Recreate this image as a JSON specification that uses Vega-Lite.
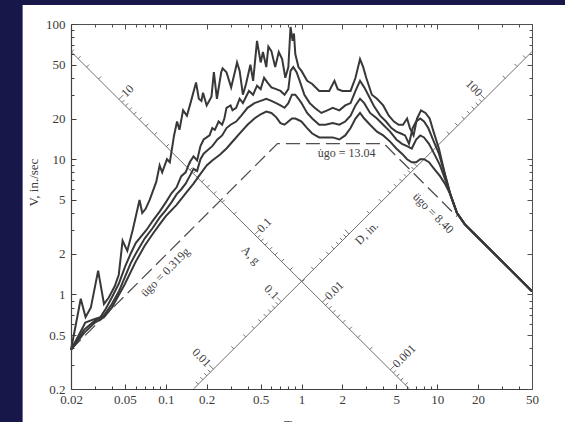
{
"$schema":"https://vega.github.io/schema/vega-lite/v6.json",
"width":461,"height":365,"autosize":"none",
"padding":{"left":71,"top":24,"right":33,"bottom":33},
"background":"#17174a",
"config":{"view":{"stroke":null},"font":"Liberation Serif"},
"datasets":{
"plate":[{}],
"diag":[{"line":"A","T":0.02,"V":62.5},{"line":"A","T":6.25,"V":0.2},{"line":"D","T":0.16,"V":0.2},{"line":"D","T":50,"V":62.5}],
"aticks":[{"T":0.020173,"V":61.96,"m":"n"},{"T":0.022554,"V":55.42,"m":"n"},{"T":0.026043,"V":48.0,"m":"n"},{"T":0.031895,"V":39.19,"m":"n"},{"T":0.045107,"V":27.71,"m":"y"},{"T":0.047548,"V":26.29,"m":"n"},{"T":0.050432,"V":24.79,"m":"n"},{"T":0.053914,"V":23.18,"m":"n"},{"T":0.058234,"V":21.47,"m":"n"},{"T":0.063792,"V":19.59,"m":"n"},{"T":0.071322,"V":17.53,"m":"n"},{"T":0.082355,"V":15.18,"m":"n"},{"T":0.10086,"V":12.39,"m":"n"},{"T":0.14264,"V":8.763,"m":"y"},{"T":0.15036,"V":8.313,"m":"n"},{"T":0.15948,"V":7.838,"m":"n"},{"T":0.17049,"V":7.332,"m":"n"},{"T":0.18415,"V":6.788,"m":"n"},{"T":0.20173,"V":6.196,"m":"n"},{"T":0.22554,"V":5.542,"m":"n"},{"T":0.26043,"V":4.8,"m":"n"},{"T":0.31895,"V":3.919,"m":"n"},{"T":0.45107,"V":2.771,"m":"y"},{"T":0.47548,"V":2.629,"m":"n"},{"T":0.50432,"V":2.479,"m":"n"},{"T":0.53914,"V":2.318,"m":"n"},{"T":0.58234,"V":2.147,"m":"n"},{"T":0.63792,"V":1.959,"m":"n"},{"T":0.71322,"V":1.753,"m":"n"},{"T":0.82355,"V":1.518,"m":"n"},{"T":1.0086,"V":1.239,"m":"n"},{"T":1.4264,"V":0.8763,"m":"y"},{"T":1.5036,"V":0.8313,"m":"n"},{"T":1.5948,"V":0.7838,"m":"n"},{"T":1.7049,"V":0.7332,"m":"n"},{"T":1.8415,"V":0.6788,"m":"n"},{"T":2.0173,"V":0.6196,"m":"n"},{"T":2.2554,"V":0.5542,"m":"n"},{"T":2.6043,"V":0.48,"m":"n"},{"T":3.1895,"V":0.3919,"m":"n"},{"T":4.5107,"V":0.2771,"m":"y"},{"T":4.7548,"V":0.2629,"m":"n"},{"T":5.0432,"V":0.2479,"m":"n"},{"T":5.3914,"V":0.2318,"m":"n"},{"T":5.8234,"V":0.2147,"m":"n"}],
"dticks":[{"T":0.17366,"V":0.2171,"m":"n"},{"T":0.18758,"V":0.2345,"m":"n"},{"T":0.20053,"V":0.2507,"m":"n"},{"T":0.2127,"V":0.2659,"m":"n"},{"T":0.2242,"V":0.2803,"m":"y"},{"T":0.31706,"V":0.3963,"m":"n"},{"T":0.38832,"V":0.4854,"m":"n"},{"T":0.4484,"V":0.5605,"m":"n"},{"T":0.50132,"V":0.6267,"m":"n"},{"T":0.54917,"V":0.6865,"m":"n"},{"T":0.59317,"V":0.7415,"m":"n"},{"T":0.63413,"V":0.7927,"m":"n"},{"T":0.6726,"V":0.8408,"m":"n"},{"T":0.70899,"V":0.8862,"m":"y"},{"T":1.00264,"V":1.2533,"m":"n"},{"T":1.22797,"V":1.535,"m":"n"},{"T":1.41797,"V":1.7725,"m":"n"},{"T":1.58532,"V":1.9817,"m":"n"},{"T":1.73663,"V":2.1708,"m":"n"},{"T":1.87577,"V":2.3447,"m":"n"},{"T":2.0053,"V":2.5066,"m":"n"},{"T":2.12695,"V":2.6587,"m":"n"},{"T":2.242,"V":2.8025,"m":"y"},{"T":3.1706,"V":3.9633,"m":"n"},{"T":3.8832,"V":4.854,"m":"n"},{"T":4.484,"V":5.605,"m":"n"},{"T":5.0132,"V":6.2665,"m":"n"},{"T":5.4917,"V":6.8646,"m":"n"},{"T":5.9317,"V":7.4146,"m":"n"},{"T":6.3413,"V":7.9266,"m":"n"},{"T":6.726,"V":8.4075,"m":"n"},{"T":7.0899,"V":8.8624,"m":"y"},{"T":10.0264,"V":12.533,"m":"n"},{"T":12.2797,"V":15.35,"m":"n"},{"T":14.1797,"V":17.725,"m":"n"},{"T":15.8532,"V":19.817,"m":"n"},{"T":17.3663,"V":21.708,"m":"n"},{"T":18.7577,"V":23.447,"m":"n"},{"T":20.053,"V":25.066,"m":"n"},{"T":21.2695,"V":26.587,"m":"n"},{"T":22.42,"V":28.025,"m":"y"},{"T":31.706,"V":39.633,"m":"n"},{"T":38.832,"V":48.54,"m":"n"},{"T":44.84,"V":56.05,"m":"n"}],
"alab":[{"T":0.045107,"V":27.71,"t":"10"},{"T":0.45107,"V":2.771,"t":"0.1"},{"T":1.4264,"V":0.8763,"t":"0.01"},{"T":4.5107,"V":0.2771,"t":"0.001"}],
"dlab":[{"T":0.2242,"V":0.2803,"t":"0.01"},{"T":0.70899,"V":0.8862,"t":"0.1"},{"T":22.42,"V":28.025,"t":"100"}],
"ann45":[{"T":0.4235,"V":1.956,"t":"A, g"},{"T":9.38,"V":4.0,"t":"ügo = 8.40"}],
"annm45":[{"T":3.018,"V":2.845,"t":"D, in."},{"T":0.0988,"V":1.465,"t":"ügo = 0.319g"}],
"ann0":[{"T":2.151,"V":11.11,"t":"u̇go = 13.04"}],
"dash":[{"T":0.02,"V":0.392},{"T":0.665,"V":13.04},{"T":4.05,"V":13.04},{"T":14,"V":3.77}],
"curves":[
{"z":"0","T":0.02,"V":0.39},{"z":"0","T":0.0236,"V":0.93},{"z":"0","T":0.0256,"V":0.68},{"z":"0","T":0.028,"V":0.8},{"z":"0","T":0.0317,"V":1.5},{"z":"0","T":0.035,"V":0.85},{"z":"0","T":0.038,"V":0.95},{"z":"0","T":0.042,"V":1.15},{"z":"0","T":0.045,"V":1.4},{"z":"0","T":0.048,"V":2.5},{"z":"0","T":0.052,"V":2.1},{"z":"0","T":0.057,"V":3.0},{"z":"0","T":0.064,"V":5.0},{"z":"0","T":0.067,"V":4.0},{"z":"0","T":0.071,"V":4.3},{"z":"0","T":0.076,"V":5.0},{"z":"0","T":0.085,"V":6.8},{"z":"0","T":0.09,"V":9.0},{"z":"0","T":0.094,"V":8.0},{"z":"0","T":0.102,"V":10.0},{"z":"0","T":0.107,"V":9.5},{"z":"0","T":0.115,"V":15},{"z":"0","T":0.121,"V":19},{"z":"0","T":0.126,"V":16.5},{"z":"0","T":0.134,"V":23},{"z":"0","T":0.143,"V":21},{"z":"0","T":0.152,"V":26},{"z":"0","T":0.167,"V":37},{"z":"0","T":0.175,"V":28},{"z":"0","T":0.183,"V":27},{"z":"0","T":0.188,"V":31},{"z":"0","T":0.2,"V":25},{"z":"0","T":0.217,"V":29},{"z":"0","T":0.226,"V":44},{"z":"0","T":0.238,"V":28},{"z":"0","T":0.256,"V":44},{"z":"0","T":0.262,"V":47},{"z":"0","T":0.28,"V":44},{"z":"0","T":0.303,"V":34},{"z":"0","T":0.326,"V":46},{"z":"0","T":0.335,"V":52},{"z":"0","T":0.35,"V":45},{"z":"0","T":0.37,"V":30},{"z":"0","T":0.39,"V":36},{"z":"0","T":0.42,"V":50},{"z":"0","T":0.44,"V":38},{"z":"0","T":0.47,"V":75},{"z":"0","T":0.5,"V":52},{"z":"0","T":0.52,"V":62},{"z":"0","T":0.55,"V":48},{"z":"0","T":0.57,"V":68},{"z":"0","T":0.6,"V":63},{"z":"0","T":0.64,"V":48},{"z":"0","T":0.68,"V":62},{"z":"0","T":0.72,"V":55},{"z":"0","T":0.76,"V":40},{"z":"0","T":0.8,"V":48},{"z":"0","T":0.83,"V":95},{"z":"0","T":0.86,"V":75},{"z":"0","T":0.88,"V":85},{"z":"0","T":0.9,"V":60},{"z":"0","T":0.95,"V":48},{"z":"0","T":1.0,"V":45},{"z":"0","T":1.1,"V":38},{"z":"0","T":1.2,"V":36},{"z":"0","T":1.35,"V":32},{"z":"0","T":1.45,"V":32},{"z":"0","T":1.6,"V":32},{"z":"0","T":1.75,"V":38},{"z":"0","T":1.85,"V":33},{"z":"0","T":2.0,"V":32},{"z":"0","T":2.3,"V":32},{"z":"0","T":2.5,"V":40},{"z":"0","T":2.7,"V":55},{"z":"0","T":2.85,"V":48},{"z":"0","T":3.0,"V":40},{"z":"0","T":3.3,"V":30},{"z":"0","T":3.6,"V":28},{"z":"0","T":4.0,"V":25},{"z":"0","T":4.4,"V":21},{"z":"0","T":4.8,"V":19},{"z":"0","T":5.2,"V":18},{"z":"0","T":5.6,"V":18},{"z":"0","T":6.0,"V":20},{"z":"0","T":6.3,"V":17},{"z":"0","T":6.7,"V":15},{"z":"0","T":7.1,"V":20},{"z":"0","T":7.6,"V":23},{"z":"0","T":8.2,"V":22},{"z":"0","T":8.8,"V":20},{"z":"0","T":9.4,"V":16},{"z":"0","T":10.3,"V":12},{"z":"0","T":11.5,"V":7.5},{"z":"0","T":12.5,"V":5.5},{"z":"0","T":14,"V":4.0},{"z":"0","T":16,"V":3.3},{"z":"0","T":20,"V":2.64},{"z":"0","T":30,"V":1.76},{"z":"0","T":50,"V":1.056},
{"z":"2","T":0.02,"V":0.39},{"z":"2","T":0.024,"V":0.55},{"z":"2","T":0.0255,"V":0.62},{"z":"2","T":0.03,"V":0.66},{"z":"2","T":0.033,"V":0.68},{"z":"2","T":0.036,"V":0.78},{"z":"2","T":0.04,"V":0.95},{"z":"2","T":0.045,"V":1.2},{"z":"2","T":0.05,"V":1.6},{"z":"2","T":0.055,"V":2.0},{"z":"2","T":0.06,"V":2.4},{"z":"2","T":0.066,"V":2.7},{"z":"2","T":0.072,"V":3.0},{"z":"2","T":0.08,"V":3.5},{"z":"2","T":0.09,"V":4.1},{"z":"2","T":0.1,"V":4.8},{"z":"2","T":0.11,"V":5.6},{"z":"2","T":0.12,"V":6.2},{"z":"2","T":0.13,"V":7.5},{"z":"2","T":0.14,"V":8.0},{"z":"2","T":0.15,"V":9.5},{"z":"2","T":0.16,"V":10.5},{"z":"2","T":0.17,"V":9.8},{"z":"2","T":0.18,"V":12.5},{"z":"2","T":0.19,"V":14},{"z":"2","T":0.2,"V":14.5},{"z":"2","T":0.21,"V":15},{"z":"2","T":0.22,"V":17},{"z":"2","T":0.23,"V":16.5},{"z":"2","T":0.245,"V":19},{"z":"2","T":0.26,"V":18},{"z":"2","T":0.27,"V":20},{"z":"2","T":0.28,"V":24},{"z":"2","T":0.3,"V":25},{"z":"2","T":0.31,"V":23},{"z":"2","T":0.33,"V":24},{"z":"2","T":0.35,"V":28},{"z":"2","T":0.37,"V":26},{"z":"2","T":0.39,"V":29},{"z":"2","T":0.41,"V":32},{"z":"2","T":0.44,"V":30},{"z":"2","T":0.47,"V":35},{"z":"2","T":0.5,"V":33},{"z":"2","T":0.53,"V":40},{"z":"2","T":0.56,"V":37},{"z":"2","T":0.6,"V":34},{"z":"2","T":0.65,"V":33},{"z":"2","T":0.7,"V":32},{"z":"2","T":0.75,"V":30},{"z":"2","T":0.8,"V":33},{"z":"2","T":0.83,"V":45},{"z":"2","T":0.87,"V":48},{"z":"2","T":0.92,"V":44},{"z":"2","T":0.97,"V":38},{"z":"2","T":1.05,"V":30},{"z":"2","T":1.15,"V":26},{"z":"2","T":1.25,"V":24},{"z":"2","T":1.4,"V":22},{"z":"2","T":1.55,"V":23},{"z":"2","T":1.7,"V":24},{"z":"2","T":1.9,"V":23},{"z":"2","T":2.1,"V":25},{"z":"2","T":2.3,"V":26},{"z":"2","T":2.5,"V":32},{"z":"2","T":2.7,"V":38},{"z":"2","T":2.9,"V":34},{"z":"2","T":3.1,"V":30},{"z":"2","T":3.4,"V":25},{"z":"2","T":3.8,"V":21},{"z":"2","T":4.2,"V":19},{"z":"2","T":4.6,"V":17},{"z":"2","T":5.0,"V":16},{"z":"2","T":5.4,"V":15.5},{"z":"2","T":5.8,"V":15},{"z":"2","T":6.2,"V":13},{"z":"2","T":6.6,"V":17},{"z":"2","T":7.0,"V":19},{"z":"2","T":7.5,"V":20},{"z":"2","T":8.0,"V":19},{"z":"2","T":8.6,"V":17},{"z":"2","T":9.3,"V":14},{"z":"2","T":10.3,"V":11},{"z":"2","T":11.5,"V":7.5},{"z":"2","T":12.5,"V":5.5},{"z":"2","T":14,"V":4.0},{"z":"2","T":16,"V":3.3},{"z":"2","T":20,"V":2.64},{"z":"2","T":30,"V":1.76},{"z":"2","T":50,"V":1.056},
{"z":"5","T":0.02,"V":0.39},{"z":"5","T":0.025,"V":0.55},{"z":"5","T":0.03,"V":0.64},{"z":"5","T":0.035,"V":0.7},{"z":"5","T":0.04,"V":0.85},{"z":"5","T":0.045,"V":1.05},{"z":"5","T":0.05,"V":1.35},{"z":"5","T":0.055,"V":1.7},{"z":"5","T":0.06,"V":2.0},{"z":"5","T":0.07,"V":2.6},{"z":"5","T":0.08,"V":3.1},{"z":"5","T":0.09,"V":3.7},{"z":"5","T":0.1,"V":4.2},{"z":"5","T":0.11,"V":4.8},{"z":"5","T":0.12,"V":5.5},{"z":"5","T":0.13,"V":6.0},{"z":"5","T":0.14,"V":6.6},{"z":"5","T":0.15,"V":7.5},{"z":"5","T":0.16,"V":8.5},{"z":"5","T":0.17,"V":8.2},{"z":"5","T":0.18,"V":10},{"z":"5","T":0.19,"V":11},{"z":"5","T":0.2,"V":11.5},{"z":"5","T":0.22,"V":12.5},{"z":"5","T":0.24,"V":14},{"z":"5","T":0.26,"V":15},{"z":"5","T":0.28,"V":17},{"z":"5","T":0.3,"V":18},{"z":"5","T":0.33,"V":19},{"z":"5","T":0.36,"V":21},{"z":"5","T":0.4,"V":24},{"z":"5","T":0.45,"V":26},{"z":"5","T":0.5,"V":27},{"z":"5","T":0.55,"V":28},{"z":"5","T":0.6,"V":27},{"z":"5","T":0.65,"V":26},{"z":"5","T":0.7,"V":25},{"z":"5","T":0.75,"V":24},{"z":"5","T":0.8,"V":26},{"z":"5","T":0.85,"V":30},{"z":"5","T":0.9,"V":30},{"z":"5","T":0.95,"V":28},{"z":"5","T":1.0,"V":26},{"z":"5","T":1.1,"V":22},{"z":"5","T":1.2,"V":20},{"z":"5","T":1.35,"V":18},{"z":"5","T":1.5,"V":18},{"z":"5","T":1.7,"V":18.5},{"z":"5","T":1.9,"V":18},{"z":"5","T":2.1,"V":19},{"z":"5","T":2.3,"V":21},{"z":"5","T":2.5,"V":25},{"z":"5","T":2.7,"V":28},{"z":"5","T":2.9,"V":26},{"z":"5","T":3.2,"V":22},{"z":"5","T":3.6,"V":20},{"z":"5","T":4.0,"V":18},{"z":"5","T":4.5,"V":16},{"z":"5","T":5.0,"V":14},{"z":"5","T":5.5,"V":13},{"z":"5","T":6.0,"V":12.5},{"z":"5","T":6.5,"V":12},{"z":"5","T":7.0,"V":14},{"z":"5","T":7.5,"V":15},{"z":"5","T":8.0,"V":14.5},{"z":"5","T":8.7,"V":13},{"z":"5","T":9.5,"V":11},{"z":"5","T":10.5,"V":9},{"z":"5","T":11.5,"V":7},{"z":"5","T":12.5,"V":5.5},{"z":"5","T":14,"V":4.0},{"z":"5","T":16,"V":3.3},{"z":"5","T":20,"V":2.64},{"z":"5","T":30,"V":1.76},{"z":"5","T":50,"V":1.056},
{"z":"10","T":0.02,"V":0.39},{"z":"10","T":0.025,"V":0.52},{"z":"10","T":0.03,"V":0.62},{"z":"10","T":0.035,"V":0.68},{"z":"10","T":0.04,"V":0.8},{"z":"10","T":0.05,"V":1.2},{"z":"10","T":0.06,"V":1.75},{"z":"10","T":0.07,"V":2.3},{"z":"10","T":0.08,"V":2.8},{"z":"10","T":0.09,"V":3.3},{"z":"10","T":0.1,"V":3.8},{"z":"10","T":0.12,"V":4.6},{"z":"10","T":0.14,"V":5.6},{"z":"10","T":0.16,"V":6.6},{"z":"10","T":0.18,"V":7.8},{"z":"10","T":0.2,"V":9.0},{"z":"10","T":0.22,"V":9.8},{"z":"10","T":0.25,"V":10.8},{"z":"10","T":0.28,"V":12},{"z":"10","T":0.32,"V":14},{"z":"10","T":0.36,"V":16},{"z":"10","T":0.4,"V":18},{"z":"10","T":0.45,"V":20},{"z":"10","T":0.5,"V":21.5},{"z":"10","T":0.55,"V":22.5},{"z":"10","T":0.6,"V":22},{"z":"10","T":0.65,"V":20.5},{"z":"10","T":0.7,"V":18.5},{"z":"10","T":0.75,"V":18},{"z":"10","T":0.8,"V":19},{"z":"10","T":0.85,"V":20},{"z":"10","T":0.9,"V":20},{"z":"10","T":0.95,"V":19.5},{"z":"10","T":1.0,"V":19},{"z":"10","T":1.1,"V":17},{"z":"10","T":1.2,"V":15.5},{"z":"10","T":1.35,"V":14.5},{"z":"10","T":1.5,"V":14.5},{"z":"10","T":1.7,"V":14.5},{"z":"10","T":1.9,"V":14},{"z":"10","T":2.1,"V":15},{"z":"10","T":2.3,"V":17},{"z":"10","T":2.5,"V":20},{"z":"10","T":2.7,"V":22},{"z":"10","T":2.9,"V":20},{"z":"10","T":3.2,"V":18},{"z":"10","T":3.6,"V":16},{"z":"10","T":4.0,"V":15},{"z":"10","T":4.5,"V":13.5},{"z":"10","T":5.0,"V":12},{"z":"10","T":5.5,"V":11},{"z":"10","T":6.0,"V":10},{"z":"10","T":6.5,"V":9.5},{"z":"10","T":7.0,"V":9.5},{"z":"10","T":7.5,"V":10},{"z":"10","T":8.0,"V":10},{"z":"10","T":8.7,"V":9.5},{"z":"10","T":9.5,"V":8.5},{"z":"10","T":10.5,"V":7.5},{"z":"10","T":11.5,"V":6.5},{"z":"10","T":12.5,"V":5.5},{"z":"10","T":14,"V":4.0},{"z":"10","T":16,"V":3.3},{"z":"10","T":20,"V":2.64},{"z":"10","T":30,"V":1.76},{"z":"10","T":50,"V":1.056}
]
},
"resolve":{"axis":{"x":"independent","y":"independent"}},
"layer":[
{"data":{"name":"plate"},"mark":{"type":"rect","fill":"#ffffff","stroke":null,"opacity":1},
 "encoding":{"x":{"datum":0.0088,"type":"quantitative","scale":{"type":"log","domain":[0.02,50],"nice":false},"axis":null},"x2":{"datum":200},
 "y":{"datum":138,"type":"quantitative","scale":{"type":"log","domain":[0.2,100],"nice":false},"axis":null},"y2":{"datum":0.05}}},
{"data":{"name":"diag"},"mark":{"type":"line","color":"#707070","strokeWidth":1},
 "encoding":{"x":{"field":"T","type":"quantitative","scale":{"type":"log","domain":[0.02,50],"nice":false},
   "axis":{"orient":"top","values":[0.02,0.03,0.04,0.05,0.06,0.07,0.08,0.09,0.1,0.2,0.3,0.4,0.5,0.6,0.7,0.8,0.9,1,2,3,4,5,6,7,8,9,10,20,30,40,50],"labels":false,"domain":true,"domainColor":"#505050","tickColor":"#505050","tickSize":{"condition":{"test":"indexof([0.02,0.05,0.1,0.2,0.5,1,2,5,10,20,50],datum.value)>=0","value":-5},"value":-3},"grid":false,"title":null,"zindex":1}},
  "y":{"field":"V","type":"quantitative","scale":{"type":"log","domain":[0.2,100],"nice":false},
   "axis":{"orient":"right","values":[0.2,0.3,0.4,0.5,0.6,0.7,0.8,0.9,1,2,3,4,5,6,7,8,9,10,20,30,40,50,60,70,80,90,100],"labels":false,"domain":true,"domainColor":"#505050","tickColor":"#505050","tickSize":{"condition":{"test":"indexof([0.2,0.5,1,2,5,10,20,50,100],datum.value)>=0","value":-5},"value":-3},"grid":false,"title":null,"zindex":1}},
  "detail":{"field":"line"}}},
{"data":{"name":"aticks"},"mark":{"type":"point","shape":"M0,0L1,-1","filled":false,"color":"#707070","strokeWidth":1,"opacity":1},
 "encoding":{"x":{"field":"T","type":"quantitative","scale":{"type":"log","domain":[0.02,50],"nice":false},"axis":null},
  "y":{"field":"V","type":"quantitative","scale":{"type":"log","domain":[0.2,100],"nice":false},"axis":null},
  "size":{"field":"m","type":"nominal","scale":{"domain":["y","n"],"range":[72,25]},"legend":null}}},
{"data":{"name":"dticks"},"mark":{"type":"point","shape":"M0,0L-1,-1","filled":false,"color":"#707070","strokeWidth":1,"opacity":1},
 "encoding":{"x":{"field":"T","type":"quantitative","scale":{"type":"log","domain":[0.02,50],"nice":false},"axis":null},
  "y":{"field":"V","type":"quantitative","scale":{"type":"log","domain":[0.2,100],"nice":false},"axis":null},
  "size":{"field":"m","type":"nominal","scale":{"domain":["y","n"],"range":[72,25]},"legend":null}}},
{"data":{"name":"alab"},"mark":{"type":"text","angle":-45,"align":"left","baseline":"middle","dx":6,"font":"Liberation Serif","fontSize":12,"color":"#404040"},
 "encoding":{"x":{"field":"T","type":"quantitative","scale":{"type":"log","domain":[0.02,50],"nice":false},"axis":null},
  "y":{"field":"V","type":"quantitative","scale":{"type":"log","domain":[0.2,100],"nice":false},"axis":null},"text":{"field":"t"}}},
{"data":{"name":"dlab"},"mark":{"type":"text","angle":45,"align":"right","baseline":"middle","dx":-6,"font":"Liberation Serif","fontSize":12,"color":"#404040"},
 "encoding":{"x":{"field":"T","type":"quantitative","scale":{"type":"log","domain":[0.02,50],"nice":false},"axis":null},
  "y":{"field":"V","type":"quantitative","scale":{"type":"log","domain":[0.2,100],"nice":false},"axis":null},"text":{"field":"t"}}},
{"data":{"name":"ann45"},"mark":{"type":"text","angle":45,"align":"center","baseline":"middle","font":"Liberation Serif","fontSize":12,"color":"#404040"},
 "encoding":{"x":{"field":"T","type":"quantitative","scale":{"type":"log","domain":[0.02,50],"nice":false},"axis":null},
  "y":{"field":"V","type":"quantitative","scale":{"type":"log","domain":[0.2,100],"nice":false},"axis":null},"text":{"field":"t"}}},
{"data":{"name":"annm45"},"mark":{"type":"text","angle":-45,"align":"center","baseline":"middle","font":"Liberation Serif","fontSize":12,"color":"#404040"},
 "encoding":{"x":{"field":"T","type":"quantitative","scale":{"type":"log","domain":[0.02,50],"nice":false},"axis":null},
  "y":{"field":"V","type":"quantitative","scale":{"type":"log","domain":[0.2,100],"nice":false},"axis":null},"text":{"field":"t"}}},
{"data":{"name":"ann0"},"mark":{"type":"text","align":"center","baseline":"middle","font":"Liberation Serif","fontSize":12,"color":"#404040"},
 "encoding":{"x":{"field":"T","type":"quantitative","scale":{"type":"log","domain":[0.02,50],"nice":false},"axis":null},
  "y":{"field":"V","type":"quantitative","scale":{"type":"log","domain":[0.2,100],"nice":false},"axis":null},"text":{"field":"t"}}},
{"data":{"name":"dash"},"mark":{"type":"line","color":"#505050","strokeWidth":1.3,"strokeDash":[14,6]},
 "encoding":{"x":{"field":"T","type":"quantitative","scale":{"type":"log","domain":[0.02,50],"nice":false},
   "axis":{"orient":"bottom","values":[0.02,0.03,0.04,0.05,0.06,0.07,0.08,0.09,0.1,0.2,0.3,0.4,0.5,0.6,0.7,0.8,0.9,1,2,3,4,5,6,7,8,9,10,20,30,40,50],"labels":false,"domain":true,"domainColor":"#404040","domainWidth":1.2,"tickColor":"#404040","tickSize":{"condition":{"test":"indexof([0.02,0.05,0.1,0.2,0.5,1,2,5,10,20,50],datum.value)>=0","value":-5},"value":-3},"grid":false,"title":null,"zindex":1}},
  "y":{"field":"V","type":"quantitative","scale":{"type":"log","domain":[0.2,100],"nice":false},
   "axis":{"orient":"left","values":[0.2,0.3,0.4,0.5,0.6,0.7,0.8,0.9,1,2,3,4,5,6,7,8,9,10,20,30,40,50,60,70,80,90,100],"labels":false,"domain":true,"domainColor":"#404040","domainWidth":1.2,"tickColor":"#404040","tickSize":{"condition":{"test":"indexof([0.2,0.5,1,2,5,10,20,50,100],datum.value)>=0","value":-5},"value":-3},"grid":false,"title":null,"zindex":1}}}},
{"data":{"name":"curves"},"mark":{"type":"line","color":"#383838","strokeWidth":2},
 "encoding":{"x":{"field":"T","type":"quantitative","scale":{"type":"log","domain":[0.02,50],"nice":false},
   "axis":{"orient":"bottom","values":[0.02,0.05,0.1,0.2,0.5,1,2,5,10,20,50],"format":"~g","ticks":false,"domain":false,"grid":false,"labelFlush":false,"labelOverlap":false,"labelFont":"Liberation Serif","labelFontSize":13,"labelColor":"#3a3a3a","labelPadding":4,"title":"Tₙ, sec","titleFont":"Liberation Serif","titleFontSize":13,"titleFontWeight":"normal","titleColor":"#3a3a3a","titlePadding":12,"zindex":1}},
  "y":{"field":"V","type":"quantitative","scale":{"type":"log","domain":[0.2,100],"nice":false},
   "axis":{"orient":"left","values":[0.2,0.5,1,2,5,10,20,50,100],"format":"~g","ticks":false,"domain":false,"grid":false,"labelFlush":false,"labelOverlap":false,"labelFont":"Liberation Serif","labelFontSize":13,"labelColor":"#3a3a3a","labelPadding":6,"title":"V, in./sec","titleFont":"Liberation Serif","titleFontSize":13,"titleFontWeight":"normal","titleColor":"#3a3a3a","titlePadding":5,"titleY":158,"zindex":1}},
  "detail":{"field":"z"}}}
]
}
